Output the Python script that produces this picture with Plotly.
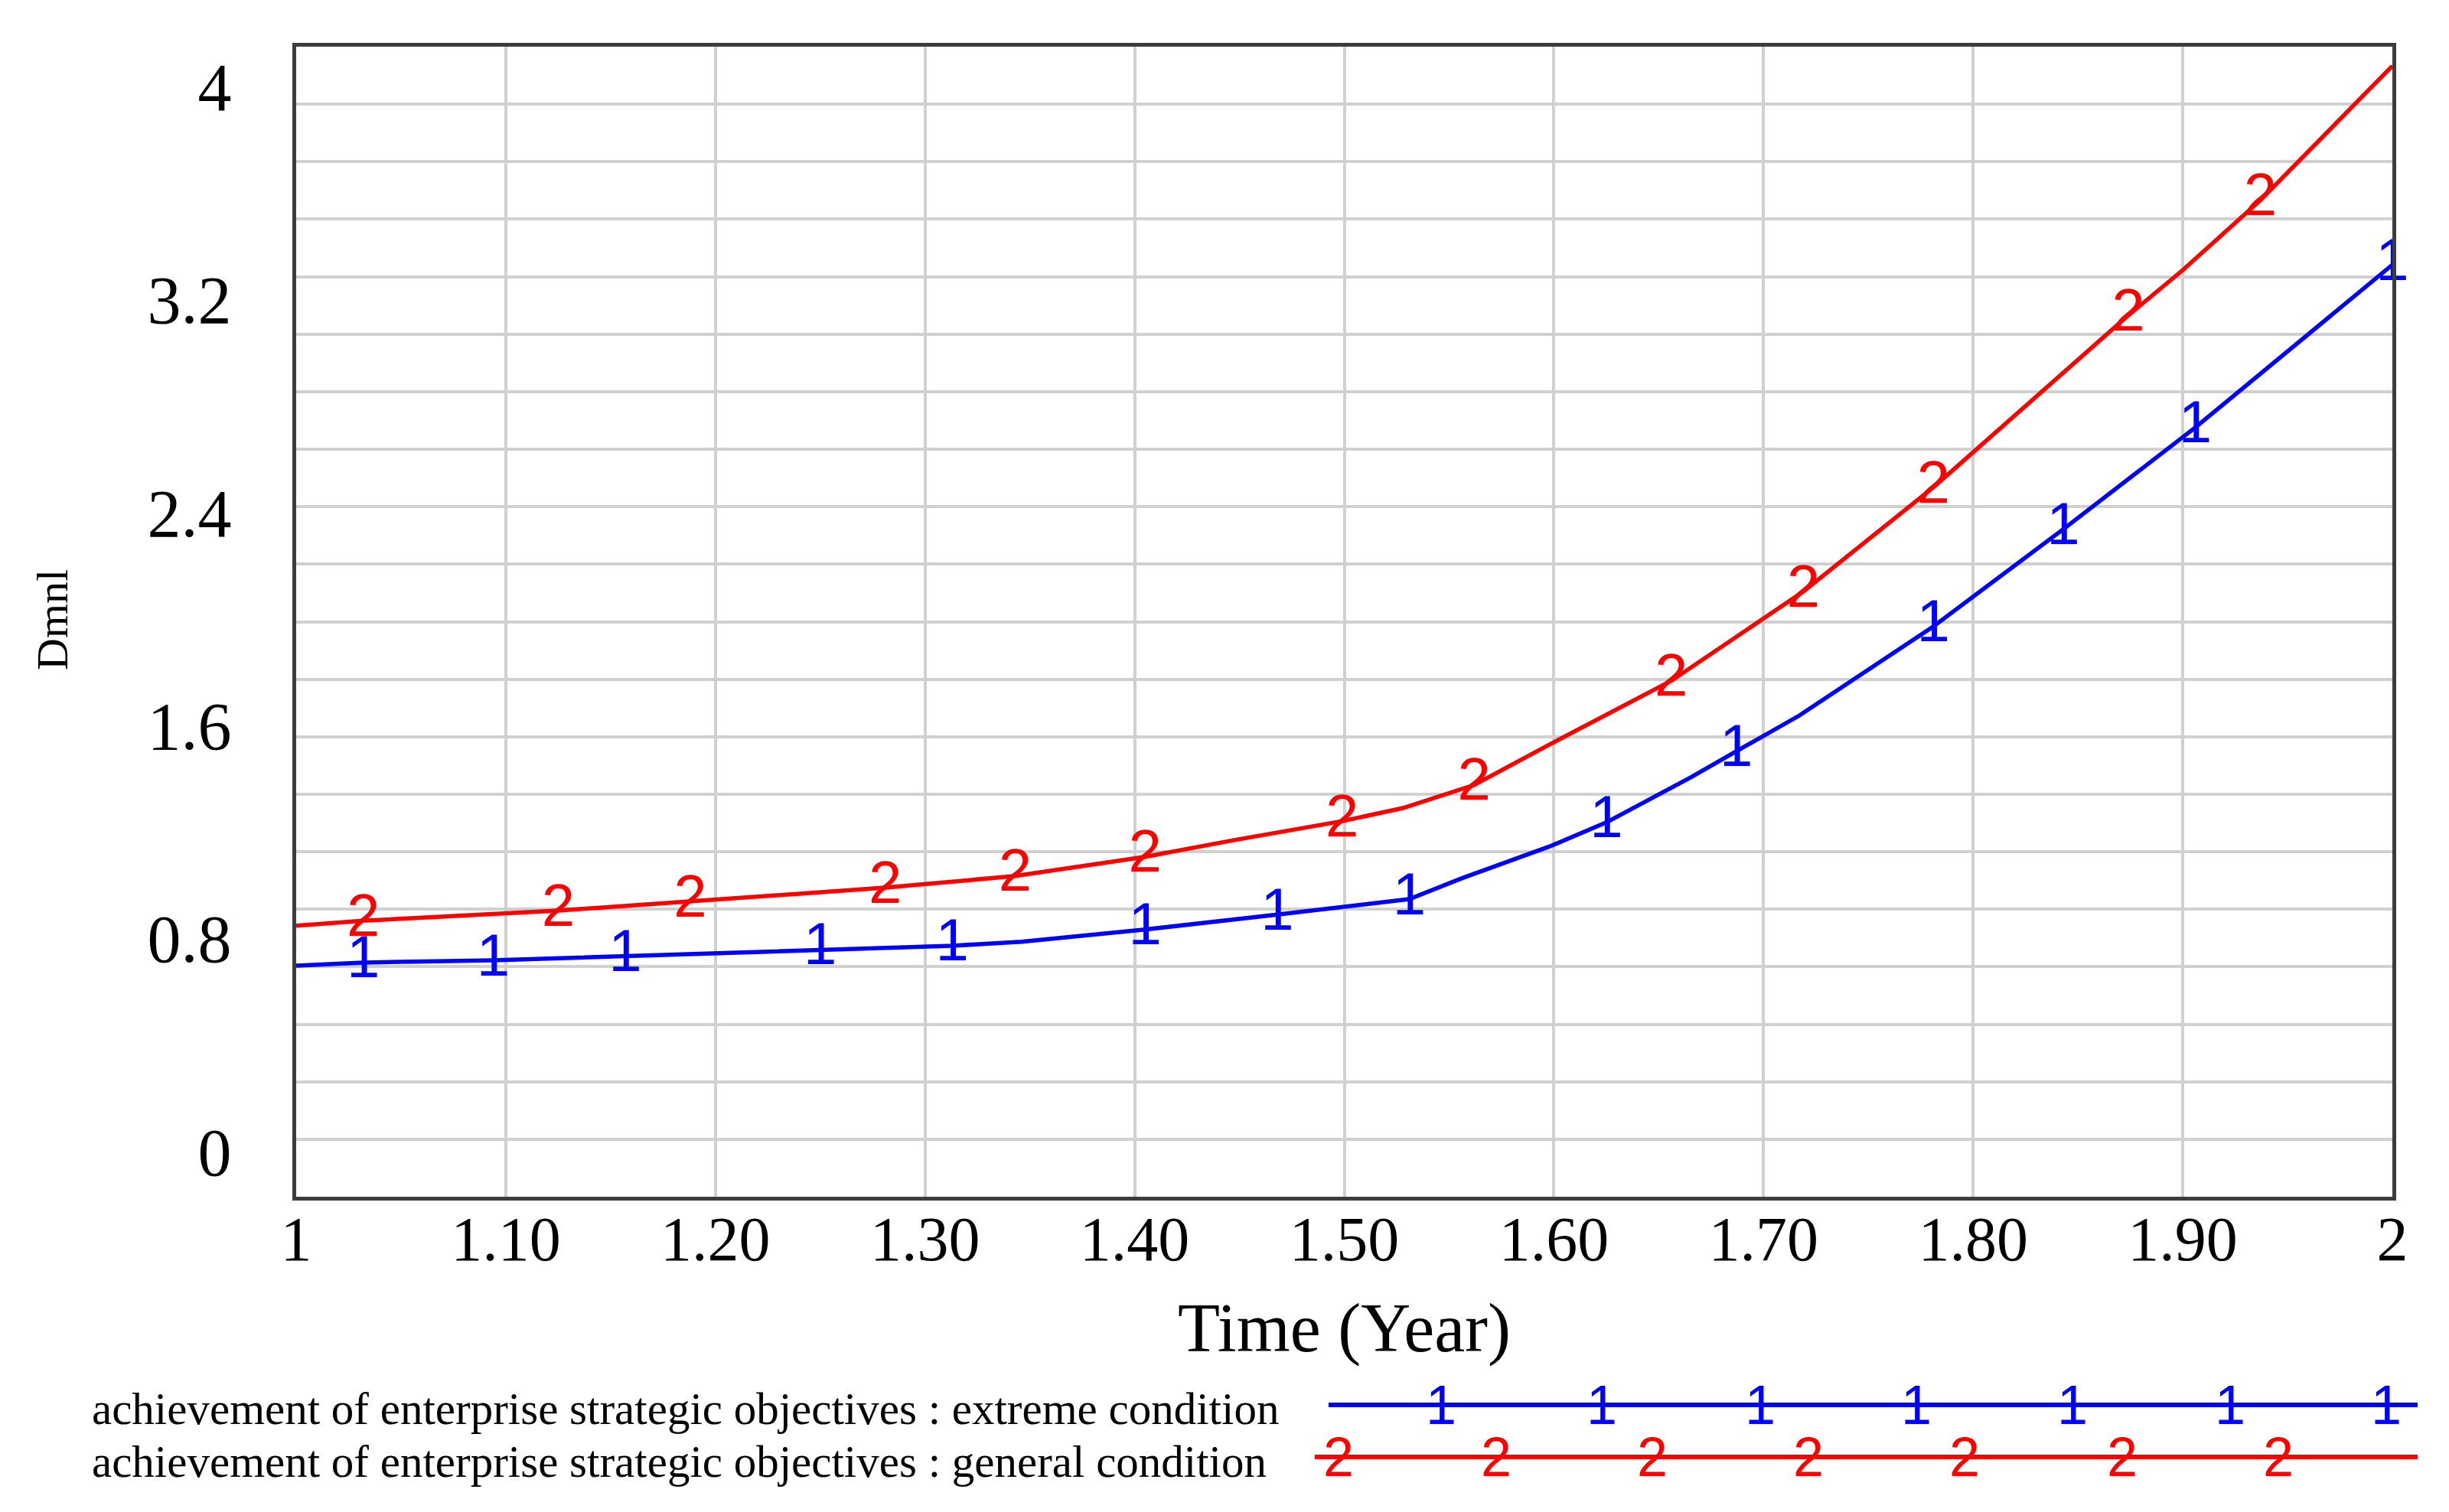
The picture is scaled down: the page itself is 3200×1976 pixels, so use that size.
import plotly.graph_objects as go

# ---------------- data ----------------
time_extreme = [1.000, 1.032, 1.094, 1.157, 1.200, 1.250, 1.313, 1.346, 1.405, 1.468, 1.497,
                1.531, 1.556, 1.598, 1.625, 1.665, 1.687, 1.717, 1.781, 1.843, 1.906, 2.000]
value_extreme = [0.698, 0.710, 0.718, 0.733, 0.744, 0.759, 0.773, 0.788, 0.834, 0.890, 0.916,
                 0.948, 1.026, 1.146, 1.236, 1.404, 1.503, 1.637, 1.972, 2.337, 2.719, 3.330]
marked_extreme = [0, 1, 1, 1, 0, 1, 1, 0, 1, 1, 0,
                  1, 0, 0, 1, 0, 1, 0, 1, 1, 1, 1]

time_general = [1.000, 1.032, 1.125, 1.188, 1.281, 1.343, 1.405, 1.447, 1.499, 1.528, 1.562,
                1.598, 1.656, 1.700, 1.719, 1.781, 1.800, 1.874, 1.900, 1.937, 2.000]
value_general = [0.848, 0.867, 0.905, 0.939, 0.991, 1.035, 1.107, 1.169, 1.241, 1.290, 1.377,
                 1.529, 1.768, 2.002, 2.103, 2.494, 2.626, 3.140, 3.310, 3.572, 4.077]
marked_general = [0, 1, 1, 1, 1, 1, 1, 0, 1, 0, 1,
                  0, 1, 0, 1, 1, 0, 1, 0, 1, 0]

x_tick_vals = [1.0, 1.1, 1.2, 1.3, 1.4, 1.5, 1.6, 1.7, 1.8, 1.9, 2.0]
x_tick_text = ["1", "1.10", "1.20", "1.30", "1.40", "1.50", "1.60", "1.70", "1.80", "1.90", "2"]
y_tick_vals = [0, 0.8, 1.6, 2.4, 3.2, 4.0]
y_tick_text = ["0", "0.8", "1.6", "2.4", "3.2", "4"]

series_names = ["achievement of enterprise strategic objectives : extreme condition",
                "achievement of enterprise strategic objectives : general condition"]
series_marks = ["1", "2"]
series_colors = ["#0000ff", "#ff0000"]

# ---------------- layout geometry (pixels) ----------------
W, H = 3200, 1976
PL, PR, PT, PB = 379, 3118, 53, 1556
Y_LO, Y_HI = -0.1695, 4.149
GRID_N = 20


def px_x(px):
    return (px - PL) / (PR - PL)


def px_y(py):
    return (PB - py) / (PB - PT)


SERIF = "Liberation Serif"
SANS = "Liberation Sans"

fig = go.Figure()

series = [
    (time_extreme, value_extreme, marked_extreme),
    (time_general, value_general, marked_general),
]

for i, (tx, vy, mk) in enumerate(series):
    fig.add_trace(go.Scatter(
        x=tx, y=vy, mode="lines", name=series_names[i],
        line=dict(color=series_colors[i], width=5.5),
        showlegend=False, hoverinfo="skip",
    ))
    fig.add_trace(go.Scatter(
        x=[t for t, m in zip(tx, mk) if m],
        y=[v for v, m in zip(vy, mk) if m],
        mode="text", text=[series_marks[i]] * sum(mk),
        textposition="middle center",
        textfont=dict(family=SANS, size=78, color=series_colors[i]),
        showlegend=False, hoverinfo="skip", cliponaxis=False,
    ))

# ---------------- manual legend (Vensim style) ----------------
legend_rows = [
    dict(text_y=1833, line_y=1828, x0=1728, x1=3151,
         marks=[1875, 2085, 2292, 2496, 2700, 2906, 3110]),
    dict(text_y=1902, line_y=1896, x0=1710, x1=3151,
         marks=[1741, 1947, 2151, 2355, 2559, 2765, 2969]),
]
shapes = []
annotations = []
for i, row in enumerate(legend_rows):
    shapes.append(dict(type="line", xref="paper", yref="paper",
                       x0=px_x(row["x0"]), x1=px_x(row["x1"]),
                       y0=px_y(row["line_y"]), y1=px_y(row["line_y"]),
                       line=dict(color=series_colors[i], width=6)))
    annotations.append(dict(text=series_names[i], xref="paper", yref="paper",
                            x=px_x(110), y=px_y(row["text_y"]),
                            xanchor="left", yanchor="middle", showarrow=False,
                            font=dict(family=SERIF, size=59, color="#000000")))
    for mx in row["marks"]:
        annotations.append(dict(text=series_marks[i], xref="paper", yref="paper",
                                x=px_x(mx), y=px_y(row["line_y"]),
                                xanchor="center", yanchor="middle", showarrow=False,
                                font=dict(family=SANS, size=72, color=series_colors[i])))

# axis titles
annotations.append(dict(text="Time (Year)", xref="paper", yref="paper",
                        x=0.5, y=px_y(1728), xanchor="center", yanchor="middle",
                        showarrow=False, font=dict(family=SERIF, size=90, color="#000000")))
annotations.append(dict(text="Dmnl", xref="paper", yref="paper",
                        x=px_x(61), y=px_y(802), xanchor="center", yanchor="middle",
                        textangle=-90, showarrow=False,
                        font=dict(family=SERIF, size=58, color="#000000")))

fig.update_layout(
    width=W, height=H,
    margin=dict(l=PL, r=W - PR, t=PT, b=H - PB, autoexpand=False),
    paper_bgcolor="white", plot_bgcolor="white",
    showlegend=False,
    shapes=shapes, annotations=annotations,
    xaxis=dict(
        range=[1, 2], tickmode="array", tickvals=x_tick_vals, ticktext=x_tick_text,
        showgrid=True, gridcolor="#d0d0d0", gridwidth=4,
        zeroline=False, showline=True, mirror=True, linecolor="#3c3c3c", linewidth=5,
        ticks="", ticklabelstandoff=-20,
        tickfont=dict(family=SERIF, size=82, color="#000000"),
        automargin=False,
    ),
    yaxis=dict(
        range=[Y_LO, Y_HI], tickmode="array", tickvals=y_tick_vals, ticktext=y_tick_text,
        showgrid=False, zeroline=False,
        showline=True, mirror=True, linecolor="#3c3c3c", linewidth=5,
        ticks="", ticklabelstandoff=62,
        tickfont=dict(family=SERIF, size=88, color="#000000"),
        minor=dict(tickmode="linear", tick0=Y_LO, dtick=(Y_HI - Y_LO) / GRID_N,
                   showgrid=True, gridcolor="#d0d0d0", gridwidth=4, ticks=""),
        automargin=False,
    ),
)

fig.write_html("out.html")
